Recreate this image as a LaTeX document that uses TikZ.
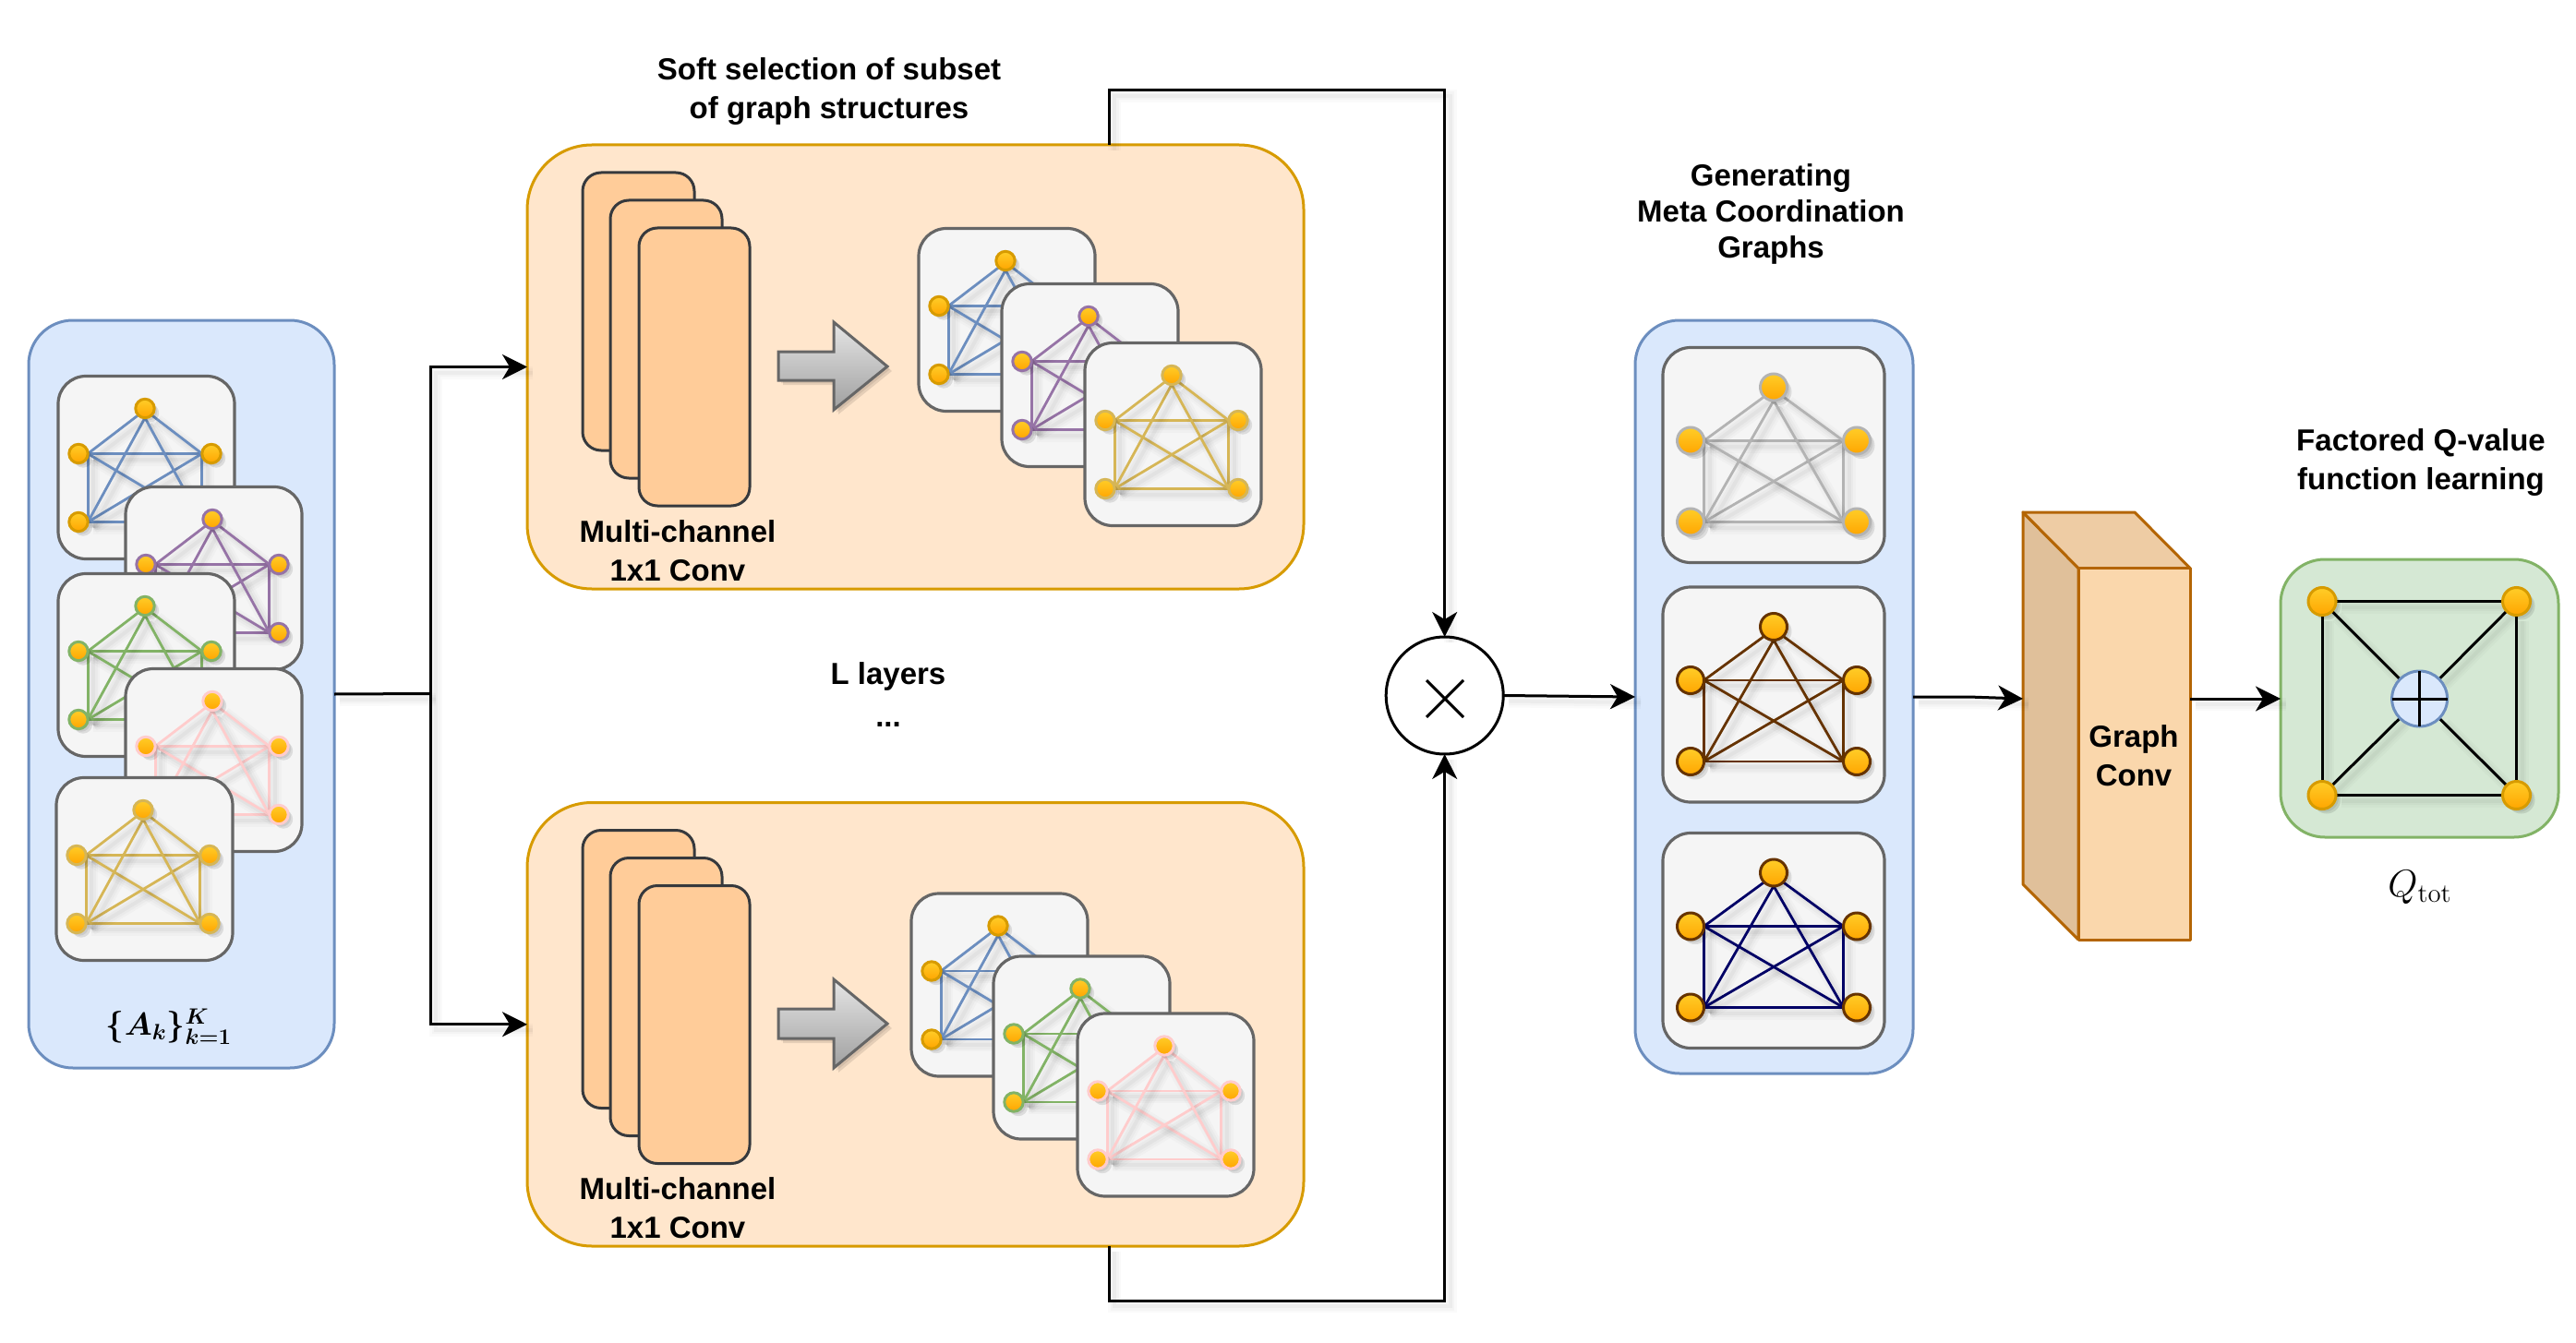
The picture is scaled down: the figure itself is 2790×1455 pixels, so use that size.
\documentclass[tikz,border=0pt]{standalone}
\usepackage{amsmath,bm}
\usepackage[no-math]{fontspec}
\setmainfont{Liberation Sans}
\usetikzlibrary{arrows.meta,calc}
\definecolor{bluefill}{HTML}{DAE8FC}
\definecolor{bluedge}{HTML}{6C8EBF}
\definecolor{orfill}{HTML}{FFE6CC}
\definecolor{oredge}{HTML}{D79B00}
\definecolor{layerfill}{HTML}{FFCC99}
\definecolor{layeredge}{HTML}{36393D}
\definecolor{cardfill}{HTML}{F5F5F5}
\definecolor{cardedge}{HTML}{666666}
\definecolor{purp}{HTML}{9673A6}
\definecolor{gren}{HTML}{82B366}
\definecolor{pnk}{HTML}{FFCCCC}
\definecolor{yel}{HTML}{D6B656}
\definecolor{gry}{HTML}{B3B3B3}
\definecolor{brn}{HTML}{663300}
\definecolor{nvy}{HTML}{000066}
\definecolor{grfill}{HTML}{D5E8D4}
\definecolor{cubefront}{HTML}{FAD7AC}
\definecolor{cubeside}{HTML}{E0C09A}
\definecolor{cubetop}{HTML}{EECCA4}
\definecolor{cubeedge}{HTML}{B46504}
\definecolor{nodetop}{HTML}{FFCD28}
\definecolor{nodebot}{HTML}{FFA500}
\tikzset{
  softline/.style={
    preaction={arrows=-,draw=black,draw opacity=.02,line width=7pt,transform canvas={shift={(3pt,-3pt)}}},
    preaction={arrows=-,draw=black,draw opacity=.025,line width=4.5pt,transform canvas={shift={(3pt,-3pt)}}},
    preaction={arrows=-,draw=black,draw opacity=.03,line width=2pt,transform canvas={shift={(3pt,-3pt)}}}},
  softfill/.style={
    preaction={fill=black,fill opacity=.1,transform canvas={shift={(2.5pt,-2.5pt)}}},
    preaction={fill=black,fill opacity=.08,transform canvas={shift={(1.5pt,-1.5pt)}}}},
  panelbox/.style={draw,rectangle,rounded corners=25pt,line width=1.5pt,inner sep=0pt,outer sep=0pt},
  layerbox/.style={draw=layeredge,fill=layerfill,rectangle,rounded corners=10pt,line width=1.5pt,inner sep=0pt,outer sep=0pt},
  cardbox/.style={draw=cardedge,fill=cardfill,rectangle,rounded corners=15pt,line width=1.6pt,inner sep=0pt,outer sep=0pt},
  gslot/.style={circle,inner sep=0pt,outer sep=0pt},
  gnode/.style={circle,inner sep=0pt,outer sep=0pt,top color=nodetop,bottom color=nodebot,line width=1.5pt,softfill},
  gedge/.style={line width=1.4pt,softline},
  wire/.style={draw=black,line width=1.5pt,softline},
  tip/.style={-{Stealth[length=13.5pt,width=13.5pt,inset=4pt]}},
  lbl/.style={font=\fontsize{16.5}{21}\selectfont\bfseries,align=center,inner sep=0pt,text=black},
  blockarrow/.style={draw=cardedge,line width=1.5pt,top color=gray!20,bottom color=gray!75,softfill},
}
% boxes given by their corners in pixels
\newcommand{\boxnode}[6]{\node[#2,minimum width={(#5-#3)*0.5pt},minimum height={(#6-#4)*0.5pt}] (#1) at ({(#3+#5)/2},{(#4+#6)/2}) {};}
\newcommand{\smallgeom}{\def\gw{191}\def\gh{198}\def\gtx{94}\def\gty{35}\def\glx{22}\def\grx{166}\def\gly{84}\def\gby{158}\def\gr{10.2pt}}
\newcommand{\biggeom}{\def\gw{240}\def\gh{233}\def\gtx{120}\def\gty{43}\def\glx{30}\def\grx{210}\def\gly{101}\def\gby{189}\def\gr{14.5pt}}
% name, x, y, edge colour, node stroke
\newcommand{\gcard}[5]{%
  \begin{scope}[shift={(#2,#3)}]
    \boxnode{#1box}{cardbox}{0}{0}{\gw}{\gh}
    \path node[gslot,minimum size=\gr] (#1t) at (\gtx,\gty) {};
    \path node[gslot,minimum size=\gr] (#1l) at (\glx,\gly) {};
    \path node[gslot,minimum size=\gr] (#1r) at (\grx,\gly) {};
    \path node[gslot,minimum size=\gr] (#1a) at (\glx,\gby) {};
    \path node[gslot,minimum size=\gr] (#1b) at (\grx,\gby) {};
    \draw[gedge,draw=#4] (#1l.east) -- (#1r.west);
    \draw[gedge,draw=#4] (#1l.east) -- (#1a.east);
    \draw[gedge,draw=#4] (#1r.west) -- (#1b.west);
    \draw[gedge,draw=#4] (#1a.east) -- (#1b.west);
    \draw[gedge,draw=#4] (#1l.east) -- (#1b.west);
    \draw[gedge,draw=#4] (#1r.west) -- (#1a.east);
    \draw[gedge,draw=#4] (#1t.south) -- (#1a.east);
    \draw[gedge,draw=#4] (#1t.south) -- (#1b.west);
    \draw[gedge,draw=#4] (#1l.east) -- (#1t.south west);
    \draw[gedge,draw=#4] (#1r.west) -- (#1t.south east);
    \node[gnode,draw=#5,minimum size=\gr] (#1tv) at (#1t) {};
    \node[gnode,draw=#5,minimum size=\gr] (#1lv) at (#1l) {};
    \node[gnode,draw=#5,minimum size=\gr] (#1rv) at (#1r) {};
    \node[gnode,draw=#5,minimum size=\gr] (#1av) at (#1a) {};
    \node[gnode,draw=#5,minimum size=\gr] (#1bv) at (#1b) {};
  \end{scope}}
\begin{document}
\begin{tikzpicture}[x=0.5pt,y=-0.5pt]
\useasboundingbox[fill=white] (0,0) rectangle (2790,1455);

% left panel
\boxnode{leftp}{panelbox,draw=bluedge,fill=bluefill,rounded corners=24pt}{31}{347}{362}{1157}
\smallgeom
\gcard{a}{63}{407.5}{bluedge}{oredge}
\gcard{b}{136}{527.5}{purp}{purp}
\gcard{c}{63}{621.5}{gren}{gren}
\gcard{d}{136}{724.5}{pnk}{pnk}
\gcard{e}{61}{842.5}{yel}{yel}
\node[inner sep=0pt] (aklabel) at (183,1112) {\fontsize{17.7}{20}\selectfont$\bm{\{A_k\}_{k=1}^{K}}$};

% upper panel
\boxnode{up}{panelbox,draw=oredge,fill=orfill,rounded corners=35pt}{571}{157}{1412}{638}
\boxnode{ul1}{layerbox}{631}{187}{752}{488}
\boxnode{ul2}{layerbox}{661}{217}{782}{518}
\boxnode{ul3}{layerbox}{692}{247}{812}{548}
\node[lbl] (ult) at (734,597) {Multi-channel\\1x1 Conv};
\draw[blockarrow] (843,381) -- (903,381) -- (903,349) -- (961,397) -- (903,444) -- (903,412) -- (843,412) -- cycle;
\gcard{f}{995}{247.5}{bluedge}{oredge}
\gcard{g}{1085}{307.5}{purp}{purp}
\gcard{h}{1175}{371.5}{yel}{yel}

% lower panel
\boxnode{down}{panelbox,draw=oredge,fill=orfill,rounded corners=35pt}{571}{869.5}{1412}{1350}
\boxnode{dl1}{layerbox}{631}{899.5}{752}{1200.5}
\boxnode{dl2}{layerbox}{661}{929.5}{782}{1230.5}
\boxnode{dl3}{layerbox}{692}{959.5}{812}{1260.5}
\node[lbl] (dlt) at (734,1309) {Multi-channel\\1x1 Conv};
\draw[blockarrow] (843,1093) -- (903,1093) -- (903,1061) -- (961,1109) -- (903,1157) -- (903,1125) -- (843,1125) -- cycle;
\gcard{i}{987}{968}{bluedge}{oredge}
\gcard{j}{1076}{1036}{gren}{gren}
\gcard{k}{1167}{1098}{pnk}{pnk}

% texts
\node[lbl] (soft) at (898,99) {Soft selection of subset\\of graph structures};
\node[lbl] (llay) at (962,733) {L layers};
\node[lbl] (dots) at (962,785) {...};
\node[lbl,font=\fontsize{16.5}{19.5}\selectfont\bfseries] (gen) at (1918,231.5) {Generating\\Meta Coordination\\Graphs};
\node[lbl] (fact) at (2622,501.5) {Factored Q-value\\function learning};

% multiply
\node[draw=black,fill=white,circle,line width=1.5pt,minimum size=63.5pt,inner sep=0pt,outer sep=0pt] (mul) at (1564.7,753.5) {};
\coordinate (cr1) at (1545,737);
\coordinate (cr2) at (1585,777);
\coordinate (cr3) at (1585,737);
\coordinate (cr4) at (1545,777);
\draw[line width=1.5pt] (cr1) -- (cr2);
\draw[line width=1.5pt] (cr3) -- (cr4);

% right panel
\boxnode{rightp}{panelbox,draw=bluedge,fill=bluefill,rounded corners=24pt}{1771}{347}{2072}{1163}
\biggeom
\gcard{m}{1801}{376.5}{gry}{gry}
\gcard{n}{1801}{636}{brn}{brn}
\gcard{o}{1801}{902.5}{nvy}{brn}

% cube
\coordinate (cA) at (2191,555);
\coordinate (cB) at (2312,555);
\coordinate (cC) at (2372,615.5);
\coordinate (cD) at (2251,615.5);
\coordinate (cE) at (2191,958);
\coordinate (cF) at (2251,1018);
\coordinate (cG) at (2372,1018);
\draw[draw=cubeedge,fill=cubeside,line width=1.5pt,line join=round] (cA) -- (cD) -- (cF) -- (cE) -- cycle;
\draw[draw=cubeedge,fill=cubetop,line width=1.5pt,line join=round] (cA) -- (cB) -- (cC) -- (cD) -- cycle;
\draw[draw=cubeedge,fill=cubefront,line width=1.5pt,line join=round] (cD) -- (cC) -- (cG) -- (cF) -- cycle;
\node[lbl] (gc) at (2311,819) {Graph\\Conv};
\coordinate (cubein) at (2191,757);
\coordinate (cubeout) at (2372,757);

% Q panel
\boxnode{qp}{panelbox,draw=gren,fill=grfill,rounded corners=24pt}{2470}{606}{2771}{907}
\tikzset{qnode/.style={gnode,draw=oredge,minimum size=15pt}}
\path node[gslot,minimum size=15pt] (q1) at (2515,651.5) {};
\path node[gslot,minimum size=15pt] (q2) at (2725.5,651.5) {};
\path node[gslot,minimum size=15pt] (q3) at (2515,861.5) {};
\path node[gslot,minimum size=15pt] (q4) at (2725.5,861.5) {};
\path node[gslot,minimum size=30pt] (qs) at (2620.6,757) {};
\draw[wire] (q1) -- (q2);
\draw[wire] (q3) -- (q4);
\draw[wire] (q1) -- (q3);
\draw[wire] (q2) -- (q4);
\draw[wire] (q1) -- (qs);
\draw[wire] (q2) -- (qs);
\draw[wire] (q3) -- (qs);
\draw[wire] (q4) -- (qs);
\node[qnode] (q1v) at (q1) {};
\node[qnode] (q2v) at (q2) {};
\node[qnode] (q3v) at (q3) {};
\node[qnode] (q4v) at (q4) {};
\node[draw=bluedge,fill=bluefill,circle,line width=1.5pt,minimum size=30pt,inner sep=0pt,outer sep=0pt] (qc) at (qs) {};
\draw[line width=1.5pt] (qc.north) -- (qc.south);
\draw[line width=1.5pt] (qc.west) -- (qc.east);
\node[inner sep=0pt] (qlab) at (2621,961) {\fontsize{20}{24}\selectfont$Q_{\mathrm{tot}}$};

% connectors
\coordinate (split) at (466,751.5);
\draw[wire] (leftp.east) -- (split);
\draw[wire,tip] (split) |- (up.west);
\draw[wire,tip] (split) |- (down.west);
\coordinate (upout) at (1201,157);
\coordinate (upcorner) at (1201,98);
\draw[wire,tip] (upout) -- (upcorner) -| (mul.north);
\coordinate (downout) at (1201,1350);
\coordinate (downcorner) at (1201,1409);
\draw[wire,tip] (downout) -- (downcorner) -| (mul.south);
\draw[wire,tip] (mul.east) -- (rightp.west);
\coordinate (rjog) at (2132,755);
\draw[wire,tip] (rightp.east) -- (rjog) -- (cubein);
\draw[wire,tip] (cubeout) -- (cubeout -| qp.west);
\end{tikzpicture}
\end{document}
